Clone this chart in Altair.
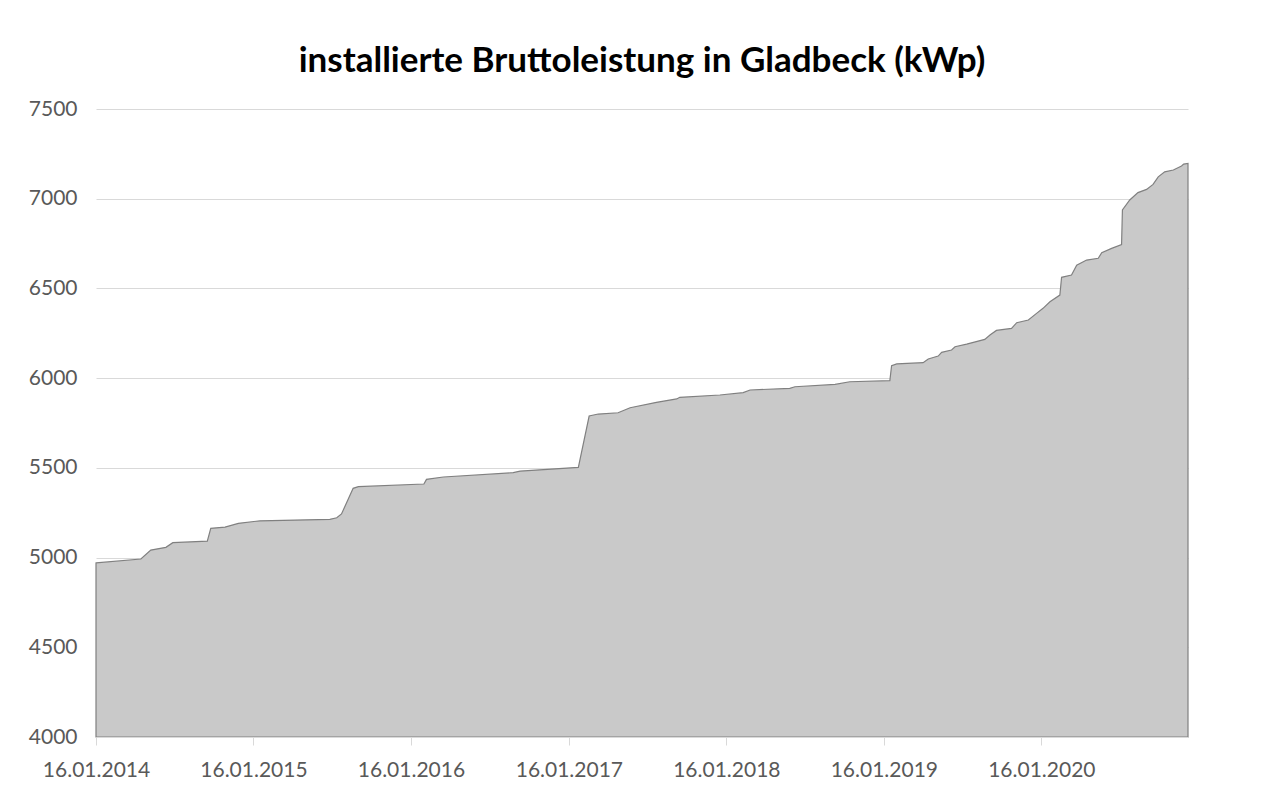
import altair as alt
import pandas as pd

# Installed gross capacity in Gladbeck (kWp)
dates = [
    "2014-01-16", "2014-04-30", "2014-05-23", "2014-06-27", "2014-07-13",
    "2014-10-01", "2014-10-09", "2014-11-11", "2014-12-12", "2015-01-31",
    "2015-07-12", "2015-07-28", "2015-08-08", "2015-09-04", "2015-09-16",
    "2016-02-15", "2016-02-21", "2016-03-31", "2016-09-09", "2016-09-25",
    "2017-02-07", "2017-03-04", "2017-03-25", "2017-05-10", "2017-06-07",
    "2017-08-07", "2017-09-23", "2017-09-30", "2018-01-01", "2018-02-24",
    "2018-03-12", "2018-06-12", "2018-06-24", "2018-09-25", "2018-10-29",
    "2019-01-30", "2019-02-03", "2019-02-15", "2019-04-17", "2019-04-29",
    "2019-05-22", "2019-05-30", "2019-06-22", "2019-06-30", "2019-07-27",
    "2019-09-07", "2019-09-19", "2019-10-04", "2019-11-08", "2019-11-20",
    "2019-12-17", "2020-01-05", "2020-01-20", "2020-02-05", "2020-02-28",
    "2020-03-03", "2020-03-26", "2020-04-07", "2020-04-30", "2020-05-27",
    "2020-06-04", "2020-06-27", "2020-07-20", "2020-07-22", "2020-08-08",
    "2020-08-27", "2020-09-16", "2020-10-01", "2020-10-13", "2020-10-28",
    "2020-11-17", "2020-12-06", "2020-12-11", "2020-12-21",
]
values = [
    4970, 4992, 5042, 5057, 5083,
    5092, 5163, 5170, 5191, 5205,
    5213, 5222, 5243, 5386, 5395,
    5410, 5436, 5449, 5473, 5482,
    5503, 5789, 5800, 5807, 5835,
    5865, 5884, 5893, 5906, 5919,
    5934, 5943, 5952, 5965, 5980,
    5986, 6069, 6079, 6086, 6107,
    6123, 6144, 6157, 6175, 6190,
    6216, 6240, 6266, 6277, 6309,
    6324, 6361, 6389, 6426, 6463,
    6562, 6575, 6630, 6658, 6668,
    6699, 6723, 6745, 6937, 6993,
    7034, 7052, 7080, 7122, 7150,
    7160, 7182, 7193, 7197,
]

x_tick_dates = ["2014-01-16", "2015-01-16", "2016-01-16", "2017-01-16",
                "2018-01-16", "2019-01-16", "2020-01-16"]
y_ticks = [4000, 4500, 5000, 5500, 6000, 6500, 7000, 7500]
y_domain = [4000, 7500]
title_text = "installierte Bruttoleistung in Gladbeck (kWp)"


def to_dt(s):
    return alt.DateTime(year=int(s[:4]), month=int(s[5:7]), date=int(s[8:10]), utc=True)


df = pd.DataFrame({"datum": dates, "kwp": values})

FONT = "Lato"
LABEL_COLOR = "#595959"
GRID = "#d9d9d9"

chart = alt.Chart(df).mark_area(
    color="#c9c9c9", stroke="#808080", strokeWidth=1.2
).encode(
    x=alt.X(
        "datum:T",
        scale=alt.Scale(type="utc", domain=[to_dt(dates[0]), to_dt(dates[-1])]),
        axis=alt.Axis(
            values=[to_dt(d) for d in x_tick_dates],
            format="%d.%m.%Y",
            title=None,
            grid=False,
            domainColor=GRID,
            domainWidth=1,
            tickColor=GRID,
            tickSize=8,
            labelPadding=14,
            labelFont=FONT,
            labelFontSize=21,
            labelColor=LABEL_COLOR,
            labelFlush=False,
            labelOverlap=False,
            zindex=1,
        ),
    ),
    y=alt.Y(
        "kwp:Q",
        scale=alt.Scale(domain=y_domain, zero=False, nice=False),
        axis=alt.Axis(
            values=y_ticks,
            format="d",
            title=None,
            domain=False,
            ticks=False,
            grid=True,
            gridColor=GRID,
            gridWidth=1,
            labelPadding=19,
            labelFont=FONT,
            labelFontSize=21,
            labelColor=LABEL_COLOR,
        ),
    ),
    y2=alt.datum(4000),
).properties(
    width=1092,
    height=628,
    title=alt.Title(
        title_text,
        font=FONT,
        fontSize=35,
        fontWeight="bold",
        color="#000000",
        anchor="middle",
        offset=19,
    ),
    autosize="none",
    padding={"left": 88, "top": 101, "right": 60, "bottom": 48},
).configure_view(stroke=None)

chart.save("out.html", embed_options={"renderer": "svg", "actions": False})
